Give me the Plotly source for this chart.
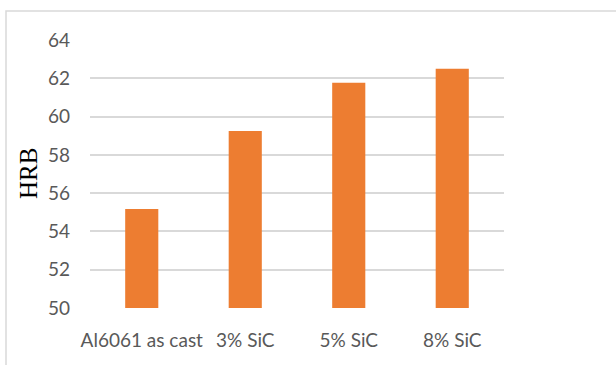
import plotly.graph_objects as go

categories = ["Al6061 as cast", "3% SiC", "5% SiC", "8% SiC"]
hrb_values = [55.17, 59.25, 61.77, 62.5]
y_ticks = [50, 52, 54, 56, 58, 60, 62, 64]

W, H = 616, 365
L, R, T, B = 90, 112, 40, 57
pw, ph = W - L - R, H - T - B

fig = go.Figure(go.Bar(
    x=categories, y=hrb_values,
    marker=dict(color="#ED7D31", line=dict(width=0)),
    width=0.32,
))

def px_x(px):
    return (px - L) / pw

def px_y(py):
    return (H - B - py) / ph

fig.update_layout(
    width=W, height=H,
    margin=dict(l=L, r=R, t=T, b=B),
    paper_bgcolor="white", plot_bgcolor="white",
    showlegend=False,
    font=dict(family="Lato, Open Sans, sans-serif", color="#595959", size=19),
    xaxis=dict(showgrid=False, showline=False, zeroline=False, ticks="",
               ticklabelstandoff=19, tickfont=dict(size=19, color="#595959")),
    yaxis=dict(range=[50, 64], tickvals=y_ticks, showgrid=True,
               gridcolor="#d9d9d9", gridwidth=1.5, zeroline=False,
               showline=False, ticks="", ticklabelstandoff=19,
               tickfont=dict(size=19, color="#595959")),
    shapes=[dict(type="rect", xref="paper", yref="paper",
                 x0=px_x(6), x1=px_x(W + 10), y0=px_y(H + 10), y1=px_y(11),
                 line=dict(color="#d9d9d9", width=1.5), layer="below")],
    annotations=[dict(text="HRB", xref="paper", yref="paper",
                      x=px_x(28), y=0.5, textangle=-90, showarrow=False,
                      xanchor="center", yanchor="middle",
                      font=dict(family="Liberation Serif, Times New Roman, serif",
                                size=25, color="black"))],
)

fig.write_html("out.html")
